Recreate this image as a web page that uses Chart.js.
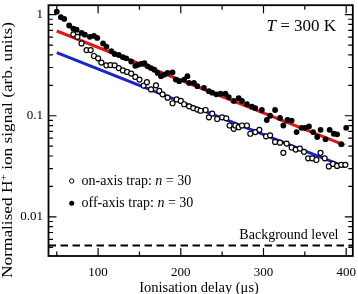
<!DOCTYPE html>
<html>
<head>
<meta charset="utf-8">
<script src="https://cdn.jsdelivr.net/npm/chart.js@4.4.0/dist/chart.umd.min.js"></script>
<style>
  html, body { margin: 0; padding: 0; background: #fff; }
  #wrap { width: 358px; height: 294px; }
</style>
</head>
<body>
<div id="wrap"><canvas id="chart" width="358" height="294"></canvas></div>
<script>
// off-axis trap (filled circles)
const offTime = [50, 55, 59, 65, 70, 74, 80, 84, 90, 95, 99, 106, 110, 116, 120, 125, 130, 134, 140, 145,
  148, 152, 156, 160, 164, 168, 172, 176, 180, 184, 190, 194, 198, 204, 208, 210, 216, 220, 228, 234,
  238, 243, 248, 254, 258, 264, 270, 274, 280, 286, 290, 298, 304, 308, 314, 320, 324, 329, 334, 340,
  346, 350, 355, 360, 365, 369, 375, 380, 385, 389, 394, 400];
const offSignal = [1.07, 0.943, 0.908, 0.781, 0.726, 0.710, 0.659, 0.634, 0.603, 0.616, 0.589, 0.519, 0.482, 0.436, 0.408, 0.399, 0.379, 0.370, 0.344, 0.312,
  0.319, 0.326, 0.331, 0.308, 0.296, 0.285, 0.265, 0.246, 0.255, 0.265, 0.269, 0.228, 0.220, 0.228, 0.246, 0.211, 0.211, 0.196, 0.189, 0.175,
  0.169, 0.163, 0.165, 0.165, 0.153, 0.140, 0.149, 0.140, 0.130, 0.123, 0.119, 0.114, 0.0908, 0.100, 0.114, 0.0950, 0.0801, 0.0908, 0.0896, 0.0689,
  0.0759, 0.0759, 0.0783, 0.0689, 0.0616, 0.0726, 0.0585, 0.0726, 0.0664, 0.0655, 0.0523, 0.0759];

// on-axis trap (open circles)
const onTime = [70, 75, 80, 86, 91, 95, 100, 104, 110, 115, 120, 125, 130, 135, 140, 145, 150, 155, 159, 164,
  170, 174, 178, 184, 190, 195, 200, 204, 210, 215, 220, 224, 230, 234, 238, 244, 250, 255, 259, 264,
  266, 270, 274, 280, 284, 290, 295, 303, 308, 314, 320, 324, 328, 334, 339, 344, 349, 354, 359, 364,
  369, 374, 379, 384, 389, 394, 399];
const onSignal = [0.639, 0.603, 0.519, 0.446, 0.446, 0.390, 0.370, 0.336, 0.315, 0.317, 0.315, 0.296, 0.281, 0.271, 0.261, 0.242, 0.228, 0.199, 0.215, 0.182,
  0.200, 0.176, 0.163, 0.151, 0.133, 0.145, 0.140, 0.130, 0.124, 0.119, 0.115, 0.112, 0.114, 0.0965, 0.105, 0.0929, 0.0965, 0.0944, 0.0801, 0.0742,
  0.0801, 0.0771, 0.0801, 0.0801, 0.0664, 0.0689, 0.0726, 0.0626, 0.0640, 0.0551, 0.0542, 0.0430, 0.0530, 0.0485, 0.0463, 0.0474, 0.0440, 0.0379, 0.0379, 0.0365,
  0.0430, 0.0379, 0.0315, 0.0334, 0.0319, 0.0327, 0.0327];

// exponential fits (straight on the log axis, so the end points are enough)
const offFitTime = [50, 398];
const offFitSignal = [0.689, 0.0512];
const onFitTime = [50, 398];
const onFitSignal = [0.421, 0.0314];

const backgroundLevel = 0.0052;

const xTickLabels = [100, 200, 300, 400];
const xMinorTicks = [50, 150, 250, 350];
const yTickLabels = [1, 0.1, 0.01];

const serif = '"Liberation Serif", "DejaVu Serif", serif';

function toPoints(xs, ys) {
  return xs.map((x, i) => ({ x, y: ys[i] }));
}

// minor log ticks 2..9 of each decade
const yMinorTicks = [];
[0.001, 0.01, 0.1].forEach(d => {
  for (let k = 2; k <= 9; k++) yMinorTicks.push(+(d * k).toPrecision(3));
});

function drawRuns(ctx, runs, x, y, align) {
  let total = 0;
  runs.forEach(r => { ctx.font = r.font; r.w = ctx.measureText(r.text).width; total += r.w; });
  let cx = align === 'center' ? x - total / 2 : (align === 'right' ? x - total : x);
  ctx.textAlign = 'left';
  runs.forEach(r => {
    ctx.font = r.font;
    ctx.fillText(r.text, cx, y + (r.dy || 0));
    cx += r.w;
  });
}

const decorations = {
  id: 'decorations',
  afterDatasetsDraw(chart) {
    const { ctx, chartArea: a, scales: { x, y } } = chart;
    ctx.save();
    ctx.strokeStyle = '#000';
    ctx.fillStyle = '#000';

    // inward ticks on all four sides
    ctx.lineWidth = 1.2;
    ctx.beginPath();
    xTickLabels.forEach(v => {
      const px = x.getPixelForValue(v);
      ctx.moveTo(px, a.bottom); ctx.lineTo(px, a.bottom - 8);
      ctx.moveTo(px, a.top); ctx.lineTo(px, a.top + 8);
    });
    xMinorTicks.forEach(v => {
      const px = x.getPixelForValue(v);
      ctx.moveTo(px, a.bottom); ctx.lineTo(px, a.bottom - 4.5);
      ctx.moveTo(px, a.top); ctx.lineTo(px, a.top + 4.5);
    });
    yTickLabels.forEach(v => {
      const py = y.getPixelForValue(v);
      ctx.moveTo(a.left, py); ctx.lineTo(a.left + 8, py);
      ctx.moveTo(a.right, py); ctx.lineTo(a.right - 8, py);
    });
    yMinorTicks.forEach(v => {
      const py = y.getPixelForValue(v);
      if (py < a.top || py > a.bottom) return;
      ctx.moveTo(a.left, py); ctx.lineTo(a.left + 4.5, py);
      ctx.moveTo(a.right, py); ctx.lineTo(a.right - 4.5, py);
    });
    ctx.stroke();

    ctx.lineWidth = 1.8;
    ctx.strokeRect(a.left, a.top, a.right - a.left, a.bottom - a.top);

    // tick labels
    ctx.font = '13px ' + serif;
    ctx.textBaseline = 'middle';
    ctx.textAlign = 'center';
    xTickLabels.forEach(v => ctx.fillText(String(v), x.getPixelForValue(v), a.bottom + 17));
    ctx.textAlign = 'right';
    yTickLabels.forEach(v => ctx.fillText(String(v), a.left - 5.5, y.getPixelForValue(v)));

    // axis titles
    ctx.textAlign = 'center';
    ctx.font = '14.5px ' + serif;
    ctx.fillText('Ionisation delay (\u03bcs)', 199, 288);

    ctx.save();
    ctx.translate(12, 150);
    ctx.rotate(-Math.PI / 2);
    ctx.scale(1.2, 1);
    ctx.textBaseline = 'alphabetic';
    drawRuns(ctx, [
      { text: 'Normalised H', font: '14.4px ' + serif },
      { text: '+', font: '9.5px ' + serif, dy: -5 },
      { text: ' ion signal (arb. units)', font: '14.4px ' + serif }
    ], 0, 0, 'center');
    ctx.restore();

    // annotations
    ctx.textBaseline = 'alphabetic';
    drawRuns(ctx, [
      { text: 'T', font: 'italic 17px ' + serif },
      { text: ' = 300 K', font: '17px ' + serif }
    ], 266.5, 30.5, 'left');

    ctx.textBaseline = 'middle';
    ctx.textAlign = 'right';
    ctx.font = '14px ' + serif;
    ctx.fillText('Background level', 338.5, 235);

    // legend
    ctx.lineWidth = 1;
    ctx.beginPath();
    ctx.arc(71.7, 181, 2.2, 0, Math.PI * 2);
    ctx.stroke();
    ctx.beginPath();
    ctx.arc(71.7, 203.3, 2.5, 0, Math.PI * 2);
    ctx.fill();
    drawRuns(ctx, [
      { text: 'on-axis trap: ', font: '14px ' + serif },
      { text: 'n', font: 'italic 14px ' + serif },
      { text: ' = 30', font: '14px ' + serif }
    ], 81.5, 181, 'left');
    drawRuns(ctx, [
      { text: 'off-axis trap: ', font: '14px ' + serif },
      { text: 'n', font: 'italic 14px ' + serif },
      { text: ' = 30', font: '14px ' + serif }
    ], 81.5, 203.3, 'left');

    ctx.restore();
  }
};

new Chart(document.getElementById('chart'), {
  type: 'scatter',
  data: {
    datasets: [
      {
        label: 'off-axis trap: n = 30',
        data: toPoints(offTime, offSignal),
        pointRadius: 2.9,
        pointBackgroundColor: '#000',
        pointBorderWidth: 0,
        showLine: false
      },
      {
        label: 'on-axis trap: n = 30',
        data: toPoints(onTime, onSignal),
        pointRadius: 2.5,
        pointBackgroundColor: '#fff',
        pointBorderColor: '#000',
        pointBorderWidth: 1.2,
        showLine: false
      },
      {
        label: 'off-axis fit',
        data: toPoints(offFitTime, offFitSignal),
        showLine: true,
        borderColor: 'rgb(228, 22, 28)',
        borderWidth: 3,
        pointRadius: 0
      },
      {
        label: 'on-axis fit',
        data: toPoints(onFitTime, onFitSignal),
        showLine: true,
        borderColor: 'rgb(24, 36, 206)',
        borderWidth: 3,
        pointRadius: 0
      },
      {
        label: 'Background level',
        data: [{ x: 40, y: backgroundLevel }, { x: 408, y: backgroundLevel }],
        showLine: true,
        borderColor: '#000',
        borderWidth: 2,
        borderDash: [7.5, 4.5],
        pointRadius: 0
      }
    ]
  },
  options: {
    responsive: false,
    animation: false,
    devicePixelRatio: 1,
    layout: { padding: { left: 48.5, right: 3, top: 1, bottom: 38 } },
    plugins: {
      legend: { display: false },
      tooltip: { enabled: false }
    },
    scales: {
      x: { type: 'linear', min: 40, max: 408, display: false },
      y: { type: 'logarithmic', min: 0.0041, max: 1.24, display: false }
    }
  },
  plugins: [decorations]
});
</script>
</body>
</html>
